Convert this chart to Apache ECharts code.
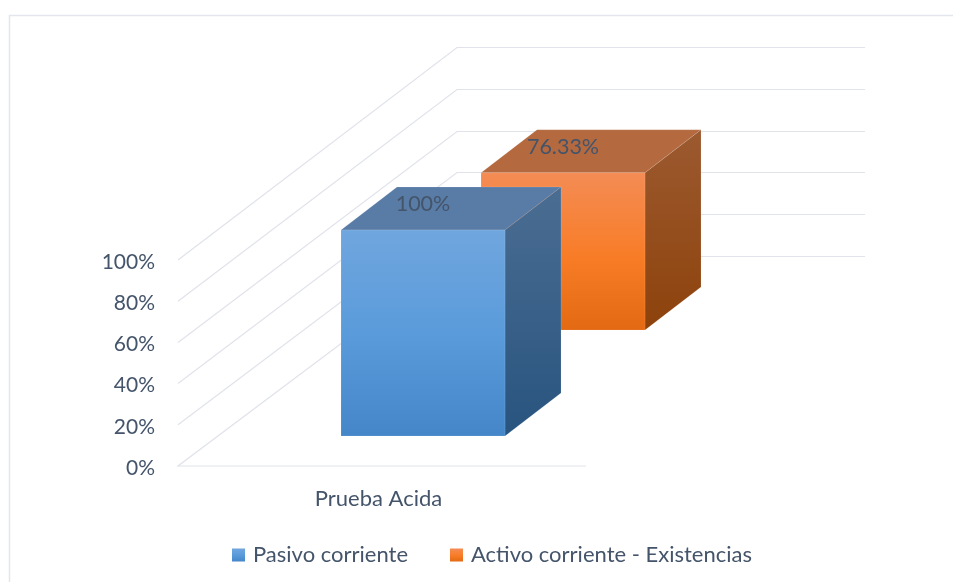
<!DOCTYPE html>
<html>
<head>
<meta charset="utf-8">
<style>html,body{margin:0;padding:0;background:#fff}#c{width:954px;height:582px}</style>
<script src="https://cdn.jsdelivr.net/npm/echarts@6/dist/echarts.min.js"></script>
</head>
<body>
<div id="c"></div>
<script>
const categories = ['Prueba Acida'];
const seriesNames = ['Pasivo corriente', 'Activo corriente - Existencias'];
const pasivoCorriente = [100];
const activoExistencias = [76.33];
const yTicks = [0, 20, 40, 60, 80, 100];

const TEXT = '#44546a', WALL = '#e0e3ea';
const FONT = 'Lato, "Open Sans", sans-serif';
const DEPTH_X = 279, DEPTH_Y = -210, DEPTH_SKEW = -3;   // floor depth of the chart box
const BAR_W = 164;
const BAR_D = [56, -43];        // bar's own depth
const SLOT = { blue: [41, -30], orange: [181, -136] };

function grad(stops) {
  return { type: 'linear', x: 0, y: 0, x2: 0, y2: 1,
    colorStops: stops.map(s => ({ offset: s[0], color: s[1] })) };
}
const blueFront = grad([[0, '#70a6de'], [0.5, '#5a9bdb'], [1, '#4486c8']]);
const orangeFront = grad([[0, '#f48c55'], [0.55, '#f87c26'], [1, '#e36913']]);

function wallItem(params, api) {
  const v = api.value(0);
  const p = api.coord([0, v]);
  const band = api.size([1, 0])[0];
  const x0 = p[0] - band / 2, y = p[1];
  const yBack = Math.round(y + DEPTH_Y + DEPTH_SKEW * v / 100) + 0.5;
  const pts = [[x0, y], [x0 + DEPTH_X, yBack], [x0 + band + DEPTH_X, yBack]];
  if (v === 0) pts.unshift([x0 + band, y]);
  return { type: 'polyline', shape: { points: pts },
    style: { stroke: WALL, lineWidth: 1.2, fill: null }, silent: true };
}

function barItem(off, front, top, side) {
  return function (params, api) {
    const v = api.value(1);
    const t = api.coord([api.value(0), v]);
    const b = api.coord([api.value(0), 0]);
    const l = t[0] - BAR_W / 2 + off[0], r = l + BAR_W;
    const yT = t[1] + off[1], yB = b[1] + off[1];
    const dx = BAR_D[0], dy = BAR_D[1];
    const edge = 'rgba(255,255,255,0.12)';
    return { type: 'group', children: [
      { type: 'polygon', shape: { points: [[l, yT], [r, yT], [r + dx, yT + dy], [l + dx, yT + dy]] },
        style: { fill: top, stroke: edge, lineWidth: 1 } },
      { type: 'polygon', shape: { points: [[r, yT], [r + dx, yT + dy], [r + dx, yB + dy], [r, yB]] },
        style: { fill: side, stroke: edge, lineWidth: 1 } },
      { type: 'rect', shape: { x: l, y: yT, width: BAR_W, height: yB - yT },
        style: { fill: front, stroke: edge, lineWidth: 1 } },
      { type: 'text', x: (l + r) / 2, y: yT - 26,
        style: { text: v + '%', fill: TEXT, font: '21.5px ' + FONT, align: 'center', verticalAlign: 'middle' } }
    ] };
  };
}

const chart = echarts.init(document.getElementById('c'), null, { renderer: 'canvas' });
chart.setOption({
  backgroundColor: '#fff',
  animation: false,
  graphic: [{ type: 'polyline', silent: true, z: 0,
    shape: { points: [[9.5, 582], [9.5, 15.5], [953, 15.5]] },
    style: { stroke: '#e3e6ec', lineWidth: 1.5, fill: null } }],
  grid: { left: 178, top: 260, width: 408, height: 206 },
  xAxis: { type: 'category', data: categories,
    axisLine: { show: false }, axisTick: { show: false }, splitLine: { show: false },
    axisLabel: { color: TEXT, fontFamily: FONT, fontSize: 22, margin: 22, padding: [0, 7, 0, 0] } },
  yAxis: { type: 'value', min: 0, max: 100, interval: 20,
    axisLine: { show: false }, axisTick: { show: false }, splitLine: { show: false },
    axisLabel: { margin: 23, formatter: '{t|{value}%}',
      rich: { t: { color: TEXT, fontFamily: FONT, fontSize: 21, padding: [4, 0, 0, 0] } } } },
  legend: { left: 227, top: 539, icon: 'rect', itemWidth: 13, itemHeight: 13, itemGap: 42,
    data: seriesNames,
    textStyle: { color: TEXT, fontFamily: FONT, fontSize: 22, padding: [0, 0, 0, 3] } },
  series: [
    { type: 'custom', name: 'walls', z: 1, silent: true, renderItem: wallItem,
      encode: { y: 0 }, data: yTicks.map(v => [v]) },
    { type: 'custom', name: seriesNames[0], z: 3, silent: true,
      itemStyle: { color: blueFront },
      renderItem: barItem(SLOT.blue, blueFront, '#597ca6',
        grad([[0, '#4b6d92'], [1, '#28547f']])),
      encode: { x: 0, y: 1 }, data: pasivoCorriente.map((v, i) => [i, v]) },
    { type: 'custom', name: seriesNames[1], z: 2, silent: true,
      itemStyle: { color: orangeFront },
      renderItem: barItem(SLOT.orange, orangeFront, '#b5693f',
        grad([[0, '#9c5a30'], [1, '#8d420b']])),
      encode: { x: 0, y: 1 }, data: activoExistencias.map((v, i) => [i, v]) }
  ]
});
</script>
</body>
</html>
